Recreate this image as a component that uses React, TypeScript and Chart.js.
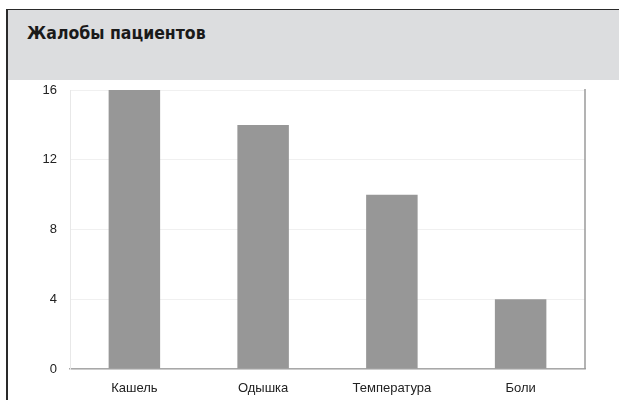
import React, { useEffect, useRef } from "react";
import { Chart, registerables } from "chart.js";

Chart.register(...registerables);

const title = "Жалобы пациентов";
const categories = ["Кашель", "Одышка", "Температура", "Боли"];
const values = [16, 14, 10, 4];
const yTicks = [0, 4, 8, 12, 16];

const rightBorder = {
  id: "rightBorder",
  afterDraw(chart: any) {
    const { ctx, chartArea } = chart;
    ctx.save();
    ctx.strokeStyle = "#9a9a9a";
    ctx.lineWidth = 1.5;
    ctx.beginPath();
    ctx.moveTo(chartArea.right, chartArea.top - 1);
    ctx.lineTo(chartArea.right, chartArea.bottom);
    ctx.stroke();
    ctx.restore();
  },
};

export default function App() {
  const ref = useRef<HTMLCanvasElement>(null);
  useEffect(() => {
    document.body.style.margin = "0";
    const chart = new Chart(ref.current!, {
      type: "bar",
      data: {
        labels: categories,
        datasets: [
          {
            data: values,
            backgroundColor: "#979797",
            borderWidth: 0,
            categoryPercentage: 1,
            barPercentage: 0.4,
          },
        ],
      },
      options: {
        animation: false,
        responsive: false,
        maintainAspectRatio: false,
        layout: { padding: { top: 10, right: 34, bottom: 0, left: 0 } },
        plugins: { legend: { display: false }, tooltip: { enabled: false }, title: { display: false } },
        scales: {
          x: {
            grid: { display: false, drawTicks: false },
            border: { display: true, color: "#a8a8a8", width: 1.5 },
            ticks: {
              padding: 12,
              color: "#222",
              font: { family: "'Liberation Sans', Arial, sans-serif", size: 13 },
            },
            afterFit: (s: any) => {
              s.height = 31;
              s.paddingLeft = 0;
              s.paddingRight = 0;
            },
          },
          y: {
            min: 0,
            max: 16,
            afterBuildTicks: (s: any) => {
              s.ticks = yTicks.map((v) => ({ value: v }));
            },
            grid: { color: "#f0f0f0", drawTicks: false },
            border: { display: true, color: "#e8e8e8" },
            ticks: {
              padding: 13,
              color: "#222",
              font: { family: "'Liberation Sans', Arial, sans-serif", size: 13 },
            },
            afterFit: (s: any) => {
              s.width = 70;
              s.paddingTop = 0;
              s.paddingBottom = 0;
            },
          },
        },
      },
      plugins: [rightBorder],
    });
    return () => chart.destroy();
  }, []);

  return (
    <div style={{ position: "fixed", left: 0, top: 0, width: 619, height: 400, background: "#fff", overflow: "hidden" }}>
      <div
        style={{
          position: "absolute",
          left: 6,
          top: 9,
          width: 619,
          height: 400,
          borderLeft: "2px solid #2a2a2a",
          borderTop: "1px solid #2a2a2a",
        }}
      />
      <div
        style={{
          position: "absolute",
          left: 8,
          top: 10,
          width: 611,
          height: 70,
          background: "#dcdddf",
        }}
      >
        <div
          style={{
            position: "absolute",
            left: 19,
            top: 13,
            fontFamily: "'DejaVu Sans Condensed', 'DejaVu Sans', sans-serif",
            fontWeight: "bold",
            fontSize: 17.5,
            color: "#1a1a1a",
            whiteSpace: "nowrap",
          }}
        >
          {title}
        </div>
      </div>
      <canvas
        ref={ref}
        width={619}
        height={320}
        style={{ position: "absolute", left: 0, top: 80, width: 619, height: 320 }}
      />
    </div>
  );
}
